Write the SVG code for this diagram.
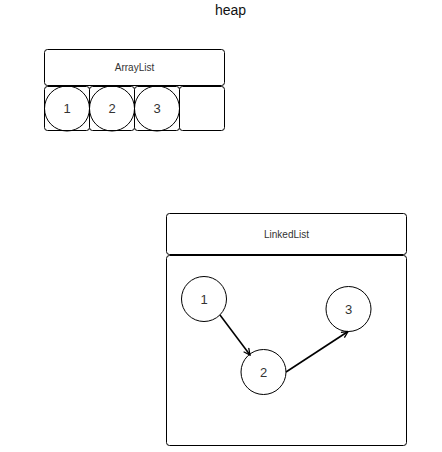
<svg xmlns="http://www.w3.org/2000/svg" width="442" height="452" viewBox="0 0 442 452">
<defs>
<style>
.box{fill:#fff;stroke:#000;stroke-width:1}
.c{fill:none;stroke:#000;stroke-width:1}
.lbl{font-family:"Liberation Sans",Arial,sans-serif;font-size:10px;fill:#333;text-anchor:middle}
.num{font-family:"Liberation Sans",Arial,sans-serif;font-size:13px;fill:#333;text-anchor:middle}
.edge{fill:none;stroke:#000;stroke-width:1.6}
</style>
<marker id="arr" viewBox="0 0 10 10" refX="9" refY="5" markerWidth="8" markerHeight="8" markerUnits="userSpaceOnUse" orient="auto">
<path d="M1,1 L9,5 L1,9" fill="none" stroke="#000" stroke-width="1.6"/>
</marker>
</defs>
<rect width="442" height="452" fill="#fff"/>
<text x="230.5" y="15" font-family="Liberation Sans,Arial,sans-serif" font-size="14" fill="#111" text-anchor="middle">heap</text>
<g id="arraylist">
<rect class="box" x="44.5" y="49.5" width="180" height="36" rx="3"/>
<text class="lbl" x="134.5" y="71">ArrayList</text>
<rect class="box" x="44.5" y="86.5" width="45" height="44" rx="3"/>
<rect class="box" x="89.5" y="86.5" width="45" height="44" rx="3"/>
<rect class="box" x="134.5" y="86.5" width="45" height="44" rx="3"/>
<rect class="box" x="179.5" y="86.5" width="45" height="44" rx="3"/>
<circle class="c" cx="67" cy="108.5" r="22.5"/>
<circle class="c" cx="112" cy="108.5" r="22.5"/>
<circle class="c" cx="157" cy="108.5" r="22.5"/>
<text class="num" x="67" y="113">1</text>
<text class="num" x="112" y="113">2</text>
<text class="num" x="157" y="113">3</text>
</g>
<g id="linkedlist">
<rect class="box" x="166.5" y="213.5" width="240" height="41" rx="3"/>
<text class="lbl" x="286.5" y="238">LinkedList</text>
<rect class="box" x="166.5" y="255.5" width="240" height="190" rx="3"/>
</g>
<g id="node1"><circle class="c" cx="204" cy="299" r="22.5"/><text class="num" x="204" y="303.5">1</text></g>
<g id="node2"><circle class="c" cx="263.5" cy="372" r="22.5"/><text class="num" x="263.5" y="376.5">2</text></g>
<g id="node3"><circle class="c" cx="348.5" cy="309" r="22.5"/><text class="num" x="348.5" y="313.5">3</text></g>
<g id="connectors">
<line class="edge" x1="220" y1="315" x2="250" y2="355" marker-end="url(#arr)"/>
<line class="edge" x1="286" y1="372" x2="348" y2="331.5" marker-end="url(#arr)"/>
</g>
</svg>
